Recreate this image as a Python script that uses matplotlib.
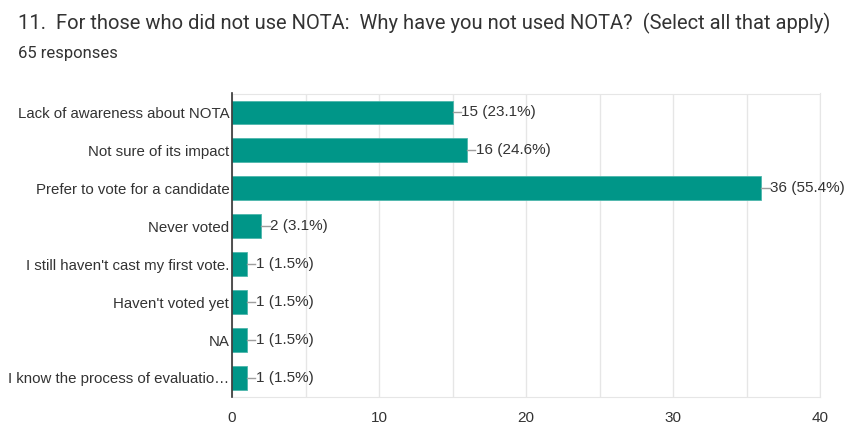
import matplotlib

matplotlib.use("Agg")
import matplotlib.pyplot as plt

plt.rcParams["font.family"] = ["Roboto", "DejaVu Sans"]

TITLE = "11.  For those who did not use NOTA:  Why have you not used NOTA?  (Select all that apply)"
SUBTITLE = "65 responses"
TOTAL = 65

categories = [
    "Lack of awareness about NOTA",
    "Not sure of its impact",
    "Prefer to vote for a candidate",
    "Never voted",
    "I still haven't cast my first vote.",
    "Haven't voted yet",
    "NA",
    "I know the process of evaluatio\u2026",
]
counts = [15, 16, 36, 2, 1, 1, 1, 1]

TEAL = "#009688"
TEXT = "#333333"
GRID = "#e6e6e6"
LABEL_FONT = ["Liberation Sans", "DejaVu Sans"]

fig = plt.figure(figsize=(8.5, 4.25), dpi=100)
ax = fig.add_axes([0.273, 0.066, 0.692, 0.714])

ypos = list(range(len(categories)))
ax.barh(ypos, counts, height=0.63, color=TEAL, edgecolor="#4db6ac", linewidth=0.6, zorder=3)

for y, c in zip(ypos, counts):
    ax.plot([c, c + 0.55], [y, y], color="#9e9e9e", lw=1, zorder=3)
    ax.text(c + 0.6, y, f"{c} ({c / TOTAL:.1%})", va="center", ha="left",
            fontsize=11, color=TEXT, family=LABEL_FONT, zorder=4)

ax.set_xlim(0, 40)
ax.set_ylim(len(categories) - 0.5, -0.5)
ax.set_yticks(ypos)
ax.set_yticklabels(categories, fontsize=10.8, color=TEXT, family=LABEL_FONT)
ax.set_xticks([0, 10, 20, 30, 40])
ax.set_xticks([5, 15, 25, 35], minor=True)
ax.tick_params(axis="x", which="both", length=0, labelsize=11, labelcolor=TEXT, pad=10)
for lbl in ax.get_xticklabels():
    lbl.set_family(LABEL_FONT)
ax.tick_params(axis="y", length=0, pad=2)
ax.grid(axis="x", which="both", color=GRID, lw=1, zorder=0)

for side in ("top", "right", "bottom"):
    ax.spines[side].set_color(GRID)
ax.spines["left"].set_color("#333333")
ax.spines["left"].set_linewidth(1.2)
ax.spines["left"].set_zorder(5)

fig.text(0.021, 0.945, TITLE, fontsize=14.5, color=TEXT, va="center", ha="left")
fig.text(0.021, 0.875, SUBTITLE, fontsize=12, color=TEXT, va="center", ha="left")

fig.savefig("out.png", dpi=100, facecolor="white")
